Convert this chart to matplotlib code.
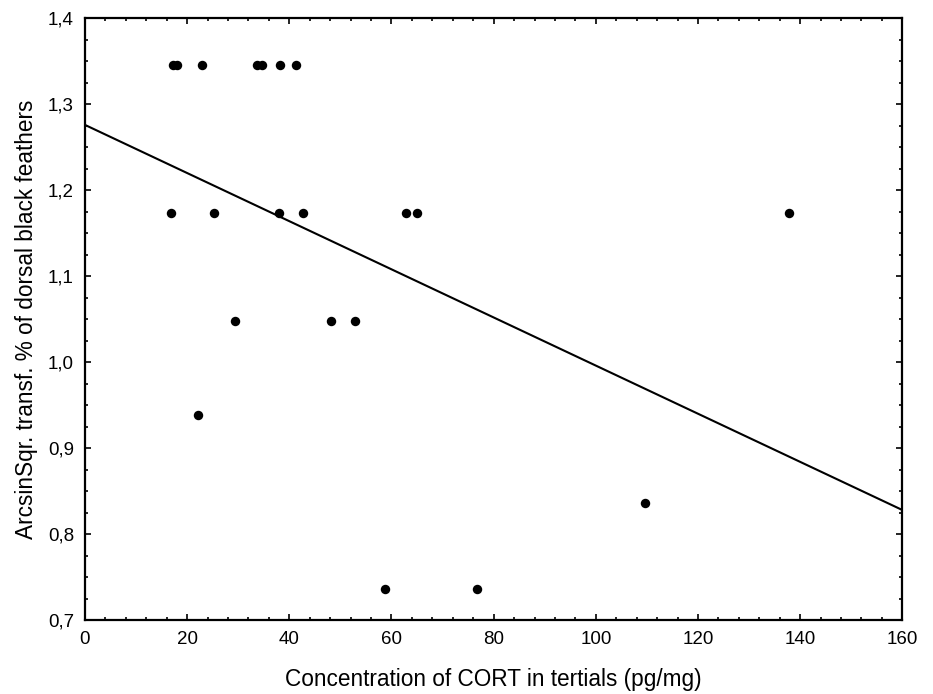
import numpy as np
import matplotlib.pyplot as plt
from matplotlib.ticker import MultipleLocator, FuncFormatter

plt.rcParams['font.family'] = ['Liberation Sans', 'DejaVu Sans']

# CORT concentration (pg/mg) vs arcsin-sqrt transformed % of dorsal black feathers
cort = [17.2, 17.95, 23.0, 33.6, 34.6, 38.2, 41.4,
        16.8, 25.3, 38.0, 42.7, 62.8, 64.9, 137.9,
        29.3, 48.2, 52.8,
        22.2, 109.6, 58.7, 76.7]
black = [1.346, 1.346, 1.346, 1.346, 1.346, 1.346, 1.346,
         1.174, 1.174, 1.174, 1.174, 1.174, 1.174, 1.174,
         1.048, 1.048, 1.048,
         0.939, 0.836, 0.736, 0.736]

# fitted regression line
fit_intercept = 1.276
fit_slope = -0.0028

fig = plt.figure(figsize=(9.33, 6.94), dpi=100)
ax = fig.add_axes([0.0911, 0.1066, 0.876, 0.867])

ax.plot(cort, black, 'o', color='black', markersize=6.8, markeredgewidth=0)
xl = np.array([0, 160])
ax.plot(xl, fit_intercept + fit_slope * xl, color='black', linewidth=1.5)

ax.set_xlim(0, 160)
ax.set_ylim(0.7, 1.4)
ax.xaxis.set_major_locator(MultipleLocator(20))
ax.xaxis.set_minor_locator(MultipleLocator(4))
ax.yaxis.set_major_locator(MultipleLocator(0.1))
ax.yaxis.set_minor_locator(MultipleLocator(0.025))
ax.yaxis.set_major_formatter(FuncFormatter(lambda v, p: ('%.1f' % v).replace('.', ',')))

ax.tick_params(which='both', direction='in', top=True, right=True, width=1.2, labelsize=13.5)
ax.tick_params(which='major', length=4, pad=8)
ax.tick_params(which='minor', length=2.5)
ax.tick_params(axis='y', which='major', pad=8)
for sp in ax.spines.values():
    sp.set_linewidth(1.6)

ax.set_xlabel('Concentration of CORT in tertials (pg/mg)', fontsize=16.3, labelpad=14)
ax.set_ylabel('ArcsinSqr. transf. % of dorsal black feathers', fontsize=16.3, labelpad=7)

fig.savefig('out.png', dpi=100)
